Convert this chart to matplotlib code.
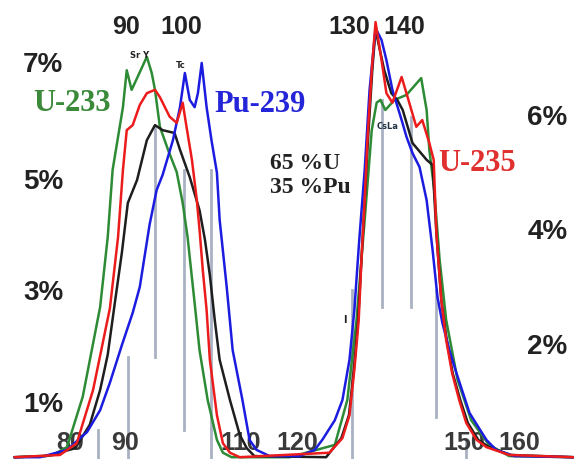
import matplotlib
matplotlib.use('Agg')
import matplotlib.pyplot as plt

# fission product yield (%) against mass number
mass_u233 = [69.2, 76.0, 78.8, 81.7, 84.9, 86.3, 87.2, 89.1, 89.8, 90.7, 91.8, 93.5, 94.4, 95.0, 95.9,
             97.4, 99.0, 100.1, 101.0, 102.3, 103.2, 104.7, 106.4, 107.5, 109.1, 119.8, 128.1, 130.4,
             132.1, 133.6, 134.9, 135.8, 136.5, 137.4, 139.1, 141.3, 144.0, 145.0, 145.5, 146.4, 147.4,
             148.6, 150.7, 153.2, 156.5, 160.2, 172.0]
yield_u233 = [0.05, 0.08, 0.23, 1.13, 2.73, 3.98, 5.18, 6.30, 6.96, 6.61, 6.84, 7.20, 6.91, 6.61, 5.95,
              5.54, 5.14, 4.59, 3.98, 2.80, 1.96, 1.07, 0.36, 0.13, 0.05, 0.05, 0.27, 1.07,
              2.50, 4.29, 5.89, 6.38, 6.43, 6.25, 6.43, 6.52, 6.82, 6.25, 5.54, 4.82, 3.57,
              2.50, 1.43, 0.71, 0.27, 0.07, 0.05]

mass_u235 = [69.2, 77.5, 80.6, 83.6, 86.7, 88.2, 89.1, 89.8, 90.9, 92.2, 93.5, 95.0, 95.9, 97.7, 99.0,
             100.1, 100.8, 101.8, 102.7, 103.2, 103.8, 104.5, 105.1, 106.4, 107.5, 108.8, 110.6, 127.1,
             129.5, 130.8, 131.7, 132.5, 133.0, 133.6, 134.1, 134.9, 135.6, 136.7, 137.6, 138.7, 140.4,
             141.5, 143.1, 144.2, 145.5, 146.3, 146.8, 147.7, 148.6, 149.7, 151.0, 152.3, 154.2, 156.0,
             160.2, 172.0]
yield_u235 = [0.05, 0.09, 0.30, 1.25, 2.71, 3.98, 5.18, 5.89, 5.98, 6.34, 6.55, 6.61, 6.48, 6.13, 6.02,
              6.38, 5.95, 5.36, 4.64, 4.11, 3.39, 2.68, 1.79, 0.80, 0.30, 0.13, 0.05, 0.13,
              0.39, 0.80, 1.61, 2.50, 3.57, 4.64, 5.71, 6.96, 7.82, 7.14, 6.55, 6.38, 6.84,
              6.48, 5.95, 6.07, 5.66, 5.36, 4.05, 2.86, 2.14, 1.55, 1.07, 0.66, 0.36, 0.23,
              0.09, 0.05]

# 65% U / 35% Pu mixture
mass_mix = [69.2, 75.0, 80.3, 83.0, 84.9, 86.3, 87.6, 88.9, 90.0, 91.7, 93.5, 95.0, 96.4, 97.7, 98.6,
            99.6, 101.4, 103.2, 104.2, 105.1, 106.0, 106.9, 108.8, 110.6, 111.9, 113.3, 126.5, 129.3,
            130.7, 131.6, 132.4, 133.0, 133.6, 134.2, 135.0, 135.6, 137.2, 138.5, 139.6, 140.6, 142.4,
            145.0, 146.1, 146.8, 147.7, 148.7, 149.8, 151.2, 152.6, 154.5, 156.5, 160.5, 172.0]
yield_mix = [0.05, 0.07, 0.21, 0.63, 1.25, 1.88, 2.80, 3.70, 4.59, 5.00, 5.71, 5.98, 5.89, 5.86, 5.84,
             5.54, 5.05, 4.46, 3.93, 3.30, 2.50, 1.79, 1.07, 0.45, 0.21, 0.07, 0.05, 0.39,
             0.80, 1.61, 2.50, 3.57, 4.64, 5.71, 6.96, 7.68, 6.96, 6.55, 6.43, 6.25, 5.66,
             5.36, 5.27, 4.05, 2.86, 2.14, 1.55, 1.07, 0.66, 0.36, 0.23, 0.09, 0.05]

mass_pu239 = [69.2, 73.8, 78.8, 82.5, 84.9, 86.7, 88.9, 90.9, 92.2, 94.0, 95.3, 96.4, 98.3, 99.6, 100.5,
              101.4, 102.3, 102.9, 103.6, 104.5, 105.4, 106.4, 106.9, 108.2, 109.3, 111.1, 112.4, 113.7,
              116.1, 121.6, 124.4, 125.8, 128.1, 129.5, 130.8, 131.7, 132.6, 133.6, 134.5, 135.6, 136.7,
              137.6, 138.7, 140.4, 141.3, 142.4, 143.7, 145.0, 146.1, 147.0, 147.9, 149.2, 150.5, 152.9,
              156.0, 157.8, 161.1, 172.0]
yield_pu239 = [0.05, 0.05, 0.18, 0.50, 0.89, 1.38, 2.05, 2.63, 3.09, 4.20, 4.82, 5.09, 5.71, 6.30, 6.91,
               6.43, 6.30, 6.55, 7.09, 6.30, 5.71, 5.13, 4.29, 3.09, 1.96, 1.07, 0.36, 0.18,
               0.07, 0.07, 0.18, 0.36, 0.71, 1.07, 1.79, 2.68, 3.93, 5.18, 6.61, 7.71, 7.50,
               7.14, 6.61, 6.07, 5.77, 5.48, 5.23, 4.64, 3.75, 2.91, 2.45, 1.96, 1.55, 0.84,
               0.36, 0.18, 0.07, 0.05]

# grey marker lines (mass number, lower and upper yield)
marker_mass = [84.5, 90.0, 95.0, 100.3, 105.4, 131.3, 136.7, 142.2, 146.8, 152.3]
marker_low = [0.0, 0.0, 1.84, 0.54, 0.0, 0.0, 2.73, 2.73, 0.77, 0.0]
marker_high = [0.54, 1.84, 5.95, 5.18, 5.18, 3.04, 6.43, 6.13, 3.04, 0.36]

left_pct = ['7%', '5%', '3%', '1%']
left_pct_y = [7.05, 4.96, 2.98, 0.98]
right_pct = ['6%', '4%', '2%']
right_pct_y = [6.10, 4.07, 2.02]

top_labels = ['90', '100', '130', '140']
top_labels_x = [89.6, 99.9, 130.8, 140.9]
bottom_labels = ['80', '90', '110', '120', '150', '160']
bottom_labels_x = [79.3, 89.4, 110.8, 121.1, 151.9, 162.1]

fig = plt.figure(figsize=(5.74, 4.59), dpi=100)
ax = fig.add_axes([0, 0, 1, 1])
ax.set_xlim(66.47, 172.13)
ax.set_ylim(0.018, 8.214)
ax.axis('off')

sans = 'Liberation Sans'
serif = 'Liberation Serif'

for x, y0, y1 in zip(marker_mass, marker_low, marker_high):
    ax.plot([x, x], [y0, y1], color='#a9b1c2', lw=2, zorder=1)

for lab, x in zip(bottom_labels, bottom_labels_x):
    ax.text(x, 0.30, lab, ha='center', va='center', fontsize=18, fontweight='bold',
            color='#3a3a3a', family=sans, zorder=1)

ax.plot(mass_u233, yield_u233, color='#2e8b35', lw=1.8, zorder=2)
ax.plot(mass_mix, yield_mix, color='#1e1e1e', lw=1.8, zorder=3)
ax.plot(mass_pu239, yield_pu239, color='#1c1ce0', lw=1.8, zorder=4)
ax.plot(mass_u235, yield_u235, color='#ec1c1c', lw=1.8, zorder=5)

for lab, y in zip(left_pct, left_pct_y):
    ax.text(74.4, y, lab, ha='center', va='center', fontsize=20, fontweight='bold',
            color='#222222', family=sans)
for lab, y in zip(right_pct, right_pct_y):
    ax.text(167.2, y, lab, ha='center', va='center', fontsize=20, fontweight='bold',
            color='#222222', family=sans)

for lab, x in zip(top_labels, top_labels_x):
    ax.text(x, 7.74, lab, ha='center', va='center', fontsize=18, fontweight='bold',
            color='#222222', family=sans)

ax.text(79.7, 6.37, 'U-233', ha='center', va='center', fontsize=22, fontweight='bold',
        color='#3a8a3a', family=serif)
ax.text(114.3, 6.34, 'Pu-239', ha='center', va='center', fontsize=22, fontweight='bold',
        color='#2424d8', family=serif)
ax.text(154.3, 5.30, 'U-235', ha='center', va='center', fontsize=22, fontweight='bold',
        color='#e03030', family=serif, zorder=6)
ax.text(116.1, 5.30, '65 %U', ha='left', va='center', fontsize=17, fontweight='bold',
        color='#222222', family=serif)
ax.text(116.1, 4.86, '35 %Pu', ha='left', va='center', fontsize=17, fontweight='bold',
        color='#222222', family=serif)

# small element tags
ax.text(92.2, 7.22, 'Sr Y', ha='center', va='center', fontsize=6, fontweight='bold', color='#222222')
ax.text(99.7, 7.04, 'Tc', ha='center', va='center', fontsize=6, fontweight='bold', color='#222222')
ax.text(137.8, 5.96, 'CsLa', ha='center', va='center', fontsize=6, fontweight='bold', color='#223344')
ax.text(129.9, 2.50, 'I', ha='center', va='center', fontsize=7, fontweight='bold', color='#222222')

fig.savefig('out.png', dpi=100)
